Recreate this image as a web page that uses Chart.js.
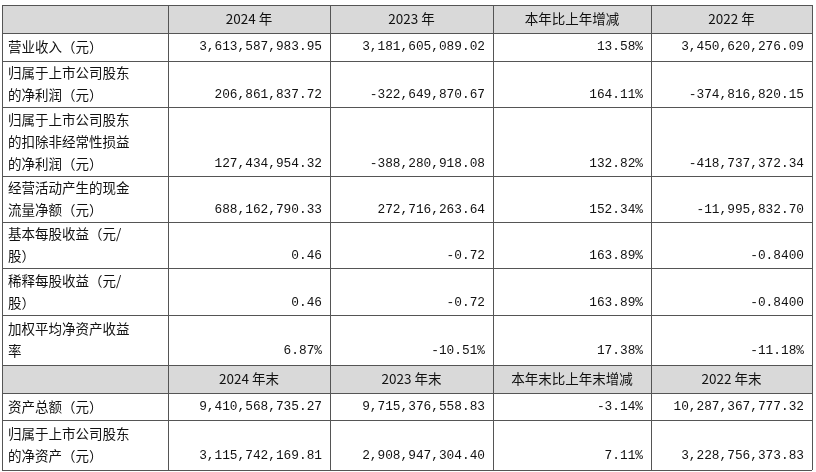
<!DOCTYPE html>
<html><head><meta charset="utf-8">
<script src="https://cdn.jsdelivr.net/npm/chart.js@4"></script>
<style>html,body{margin:0;padding:0;background:#fff}</style>
</head><body>
<canvas id="c" width="816" height="472"></canvas>
<script>
const headers1 = ["", "2024 年", "2023 年", "本年比上年增减", "2022 年"];
const headers2 = ["", "2024 年末", "2023 年末", "本年末比上年末增减", "2022 年末"];
const rowLabels = [
  ["营业收入（元）"],
  ["归属于上市公司股东", "的净利润（元）"],
  ["归属于上市公司股东", "的扣除非经常性损益", "的净利润（元）"],
  ["经营活动产生的现金", "流量净额（元）"],
  ["基本每股收益（元/", "股）"],
  ["稀释每股收益（元/", "股）"],
  ["加权平均净资产收益", "率"]
];
const values2024 = ["3,613,587,983.95","206,861,837.72","127,434,954.32","688,162,790.33","0.46","0.46","6.87%"];
const values2023 = ["3,181,605,089.02","-322,649,870.67","-388,280,918.08","272,716,263.64","-0.72","-0.72","-10.51%"];
const changes = ["13.58%","164.11%","132.82%","152.34%","163.89%","163.89%","17.38%"];
const values2022 = ["3,450,620,276.09","-374,816,820.15","-418,737,372.34","-11,995,832.70","-0.8400","-0.8400","-11.18%"];
const rowLabels2 = [["资产总额（元）"],["归属于上市公司股东","的净资产（元）"]];
const end2024 = ["9,410,568,735.27","3,115,742,169.81"];
const end2023 = ["9,715,376,558.83","2,908,947,304.40"];
const endChange = ["-3.14%","7.11%"];
const end2022 = ["10,287,367,777.32","3,228,756,373.83"];

const colX = [2,168,330,493,651,812];
const rowY = [5,33,61,107,176,222,268,315,365,393,420,470];

const tablePlugin = {
  id:'table',
  afterDraw(chart){
    const ctx = chart.ctx;
    ctx.save();
    const cjk = '13.5px "Noto Sans CJK SC"';
    const num = '12.8px "Liberation Mono","DejaVu Sans Mono"';
    ctx.fillStyle = '#d9d9d9';
    [[0,1],[8,9]].forEach(([a,b])=>ctx.fillRect(colX[0],rowY[a],colX[5]-colX[0],rowY[b]-rowY[a]));
    ctx.strokeStyle = '#555'; ctx.lineWidth = 1;
    rowY.forEach(y=>{ctx.beginPath();ctx.moveTo(colX[0],y+0.5);ctx.lineTo(colX[5],y+0.5);ctx.stroke();});
    colX.forEach(x=>{ctx.beginPath();ctx.moveTo(x+0.5,rowY[0]);ctx.lineTo(x+0.5,rowY[11]);ctx.stroke();});
    ctx.fillStyle = '#111'; ctx.textBaseline='middle';
    const header = (h,r)=>{ctx.font=cjk;ctx.textAlign='center';for(let c=1;c<5;c++)ctx.fillText(h[c],(colX[c]+colX[c+1])/2,(rowY[r]+rowY[r+1])/2);};
    header(headers1,0); header(headers2,8);
    const body = (labels,cols,startRow)=>{
      labels.forEach((lines,i)=>{
        const r=startRow+i, top=rowY[r], bot=rowY[r+1], mid=(top+bot)/2;
        ctx.font=cjk; ctx.textAlign='left';
        const lh=22, y0=mid-(lines.length-1)*lh/2;
        lines.forEach((t,k)=>ctx.fillText(t,colX[0]+6,y0+k*lh));
        ctx.font=num; ctx.textAlign='right';
        const ly = lines.length>1 ? y0+(lines.length-1)*lh : mid;
        cols.forEach((arr,c)=>ctx.fillText(arr[i],colX[c+2]-8,ly));
      });
    };
    body(rowLabels,[values2024,values2023,changes,values2022],1);
    body(rowLabels2,[end2024,end2023,endChange,end2022],9);
    ctx.restore();
  }
};
new Chart(document.getElementById('c'),{
  type:'bar',
  data:{labels:[],datasets:[]},
  options:{responsive:false,animation:false,devicePixelRatio:1,
    plugins:{legend:{display:false},tooltip:{enabled:false}},
    scales:{x:{display:false},y:{display:false}}},
  plugins:[tablePlugin]
});
</script>
</body></html>
